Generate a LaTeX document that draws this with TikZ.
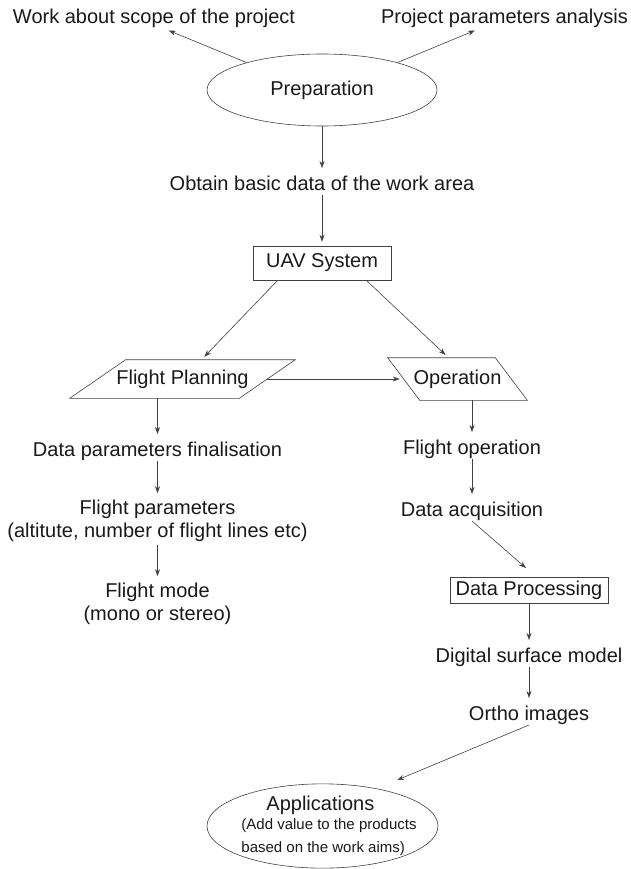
\documentclass[tikz,border=0pt]{standalone}
\usepackage{fontspec}
\setmainfont{Liberation Sans}
\usetikzlibrary{positioning,shapes.geometric,arrows.meta}

\newcommand{\appfont}{\fontsize{15}{18}\selectfont}

\begin{document}
\begin{tikzpicture}[x=1pt,y=-1pt,->,>={Stealth[length=7pt,width=5pt]},shorten >=4pt,line width=0.6pt,draw=black!75,text=black!90,
    text node/.style={font=\fontsize{20}{23}\selectfont,text height=15pt,text depth=2pt,inner sep=0pt,outer sep=3pt,align=center},
    multi node/.style={font=\fontsize{20}{23}\selectfont,inner sep=0pt,outer sep=3pt,align=center},
    main node/.style={ellipse,draw,font=\fontsize{20}{23}\selectfont,inner sep=0pt},
    box node/.style={rectangle,draw,font=\fontsize{20}{23}\selectfont,inner sep=0pt},
    para node/.style={rectangle,font=\fontsize{20}{23}\selectfont,inner sep=0pt},
    para line/.style={-,shorten >=0pt}]
                \useasboundingbox (0,0) rectangle (630,869);

                \node[main node,minimum width=230pt,minimum height=72pt] (1) at (322,90) {Preparation};
                \node[text node] (2) at (154,17.5) {Work about scope of the project};
                \node[text node] (3) at (504.5,17.5) {Project parameters analysis};
                \node[text node] (4) at (322,183.5) {Obtain basic data of the work area};
                \node[box node,minimum width=138pt,minimum height=34pt] (5) at (322,263) {UAV System};

                % the two slanted boxes, outlines drawn below
                \node[para node,minimum width=169pt,minimum height=38pt] (6) at (182.5,379) {Flight Planning};
                \node[para node,minimum width=107pt,minimum height=42pt] (7) at (457.5,379) {Operation};
                \draw[para line] ([xshift=-28pt]6.south west) -- ([xshift=28pt]6.north west)
                    -- ([xshift=28pt]6.north east) -- ([xshift=-28pt]6.south east) -- cycle;
                \draw[para line] ([xshift=-16pt]7.north west) -- ([xshift=-16pt]7.north east)
                    -- ([xshift=16pt]7.south east) -- ([xshift=16pt]7.south west) -- cycle;

                \node[text node] (8) at (157.5,449.5) {Data parameters finalisation};
                \node[multi node] (9) at (157.5,521) {Flight parameters\\(altitute, number of flight lines etc)};
                \node[multi node] (10) at (157.5,604) {Flight mode\\(mono or stereo)};

                \node[text node] (11) at (472,447.5) {Flight operation};
                \node[text node] (12) [below of=11,node distance=62pt] {Data acquisition};
                \node[box node,minimum width=158pt,minimum height=26pt] (13) at (529,590) {Data Processing};
                \node[text node] (14) at (529,655.5) {Digital surface model};
                \node[text node] (15) [below of=14,node distance=58pt] {Ortho images};

                \node[main node,minimum width=231pt,minimum height=84pt,inner xsep=-30pt,align=left] (16) at (322.5,826)
                    {\hspace*{38pt}Applications\\[-4pt]\appfont\hspace*{13pt}(Add value to the products\\\appfont\hspace*{13pt}based on the work aims)};

                \path
                    (1.160) edge ([xshift=11pt]2.south)
                    (1.20) edge ([xshift=-26pt]3.south)
                    (1) edge (4)
                    (4) edge (5)
                    ([xshift=25pt]5.south west) edge ([xshift=19pt]6.north)
                    ([xshift=-25pt]5.south east) edge ([xshift=-9pt]7.north)
                    (6.east) edge (7.west)
                    (8 |- 6.south) edge (8)
                    (8) edge (9)
                    (9) edge (10)
                    (11 |- 7.south) edge (11)
                    (11) edge (12)
                    (12.south) edge ([yshift=6pt]13.north)
                    (13) edge (14)
                    (14) edge (15)
                    (15.south) edge ([xshift=71pt,yshift=2pt]16.north)
                    ;
            \end{tikzpicture}
\end{document}
